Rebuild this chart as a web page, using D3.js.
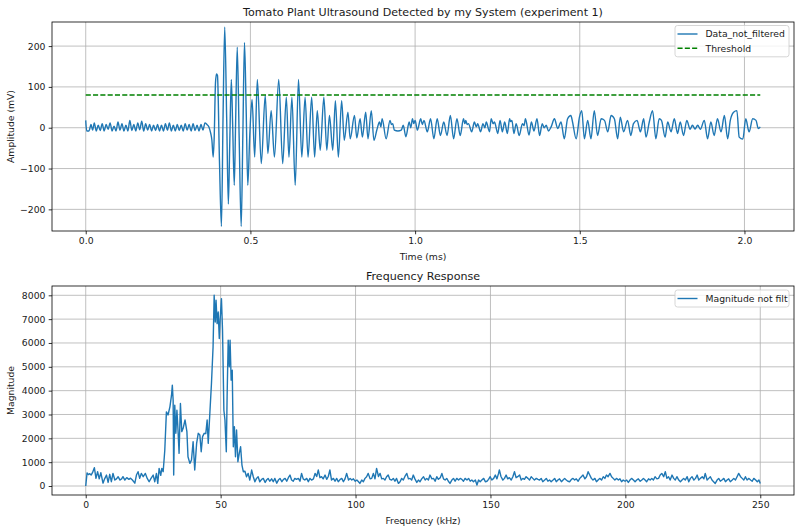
<!DOCTYPE html>
<html>
<head>
<meta charset="utf-8">
<script src="https://cdn.jsdelivr.net/npm/d3@7"></script>
<style>
body { margin: 0; background: #fff; }
text { font-family: "DejaVu Sans", sans-serif; fill: #1a1a1a; }
</style>
</head>
<body>
<script>
// ---- data ----
const ampTitle = "Tomato Plant Ultrasound Detected by my System (experiment 1)";
const freqTitle = "Frequency Response";
const ampLabels = ["Data_not_filtered", "Threshold"];
const freqLabels = ["Magnitude not filt"];
const threshold = 80;
const thresholdSpan = [0, 2.048];
const timeTicks = [0, 0.5, 1.0, 1.5, 2.0];
const ampTicks = [-200, -100, 0, 100, 200];
const freqTicks = [0, 50, 100, 150, 200, 250];
const magTicks = [0, 1000, 2000, 3000, 4000, 5000, 6000, 7000, 8000];

// [time ms, amplitude mV]
const amplitude = [
  [0,18],[0.003,-8],[0.010,-8],[0.016,8],[0.021,-6],[0.026,12],[0.032,-8],[0.038,6],[0.044,-7],[0.050,10],
  [0.056,-8],[0.062,8],[0.068,-4],[0.074,12],[0.080,-8],[0.086,4],[0.092,-8],[0.098,14],[0.104,-6],[0.110,10],
  [0.116,-8],[0.122,6],[0.128,-8],[0.134,18],[0.140,-7],[0.146,8],[0.152,-8],[0.158,12],[0.164,-5],[0.170,16],
  [0.176,-8],[0.182,10],[0.188,-6],[0.194,8],[0.200,-8],[0.206,6],[0.212,-7],[0.218,8],[0.224,-8],[0.230,6],
  [0.236,-8],[0.242,10],[0.248,-6],[0.254,12],[0.260,-8],[0.266,6],[0.272,-8],[0.278,8],[0.284,-7],[0.290,6],
  [0.296,-8],[0.302,10],[0.308,-6],[0.314,8],[0.320,-8],[0.326,10],[0.332,-7],[0.338,6],[0.344,-8],[0.350,8],
  [0.356,-6],[0.362,12],[0.368,8],[0.374,2],
  [0.379,-12],[0.383,-30],[0.387,-72],[0.390,-25],[0.394,110],[0.397,132],[0.400,128],[0.406,-80],[0.412,-242],
  [0.417,30],[0.422,247],[0.428,20],[0.433,-187],[0.437,-50],[0.442,118],[0.446,10],[0.451,-141],[0.455,10],
  [0.460,197],[0.466,-30],[0.472,-242],[0.477,-20],[0.482,209],[0.487,50],[0.492,-141],[0.498,-20],[0.505,69],
  [0.513,-72],[0.521,118],[0.533,-88],[0.545,79],[0.553,-63],[0.563,42],[0.573,-72],[0.586,118],[0.598,-88],
  [0.609,75],[0.617,-72],[0.626,75],[0.636,-141],[0.646,118],[0.656,-72],[0.666,75],[0.675,-72],[0.686,75],
  [0.695,-72],[0.703,42],[0.712,-55],[0.723,75],[0.732,-55],[0.740,30],[0.750,-55],[0.758,66],[0.767,-72],
  [0.777,66],[0.785,-31],
  [0.796,38],[0.803,-27],[0.816,30],[0.823,-25],[0.833,22],[0.840,-23],[0.850,38],[0.857,-27],[0.867,42],
  [0.875,-31],[0.884,-5],[0.892,14],[0.896,2],[0.900,22],[0.912,-27],[0.924,18],[0.928,8],[0.932,10],[0.937,-6],
  [0.948,-8],[0.958,-6],[0.964,6],[0.972,-22],[0.982,14],[0.987,0],[0.992,22],[0.996,10],[1.000,18],[1.007,-6],
  [1.017,22],[1.022,8],[1.027,18],[1.037,-10],[1.047,22],[1.057,-27],[1.067,22],[1.077,-19],[1.087,14],
  [1.097,-19],[1.107,30],[1.117,-27],[1.127,22],[1.137,-19],[1.147,22],[1.151,10],[1.154,18],[1.158,8],
  [1.162,10],[1.172,-10],[1.180,14],[1.186,2],[1.190,10],[1.199,-10],[1.206,10],[1.212,0],[1.216,14],
  [1.226,-10],[1.231,22],[1.237,10],[1.241,14],[1.251,-14],[1.258,18],[1.265,-10],[1.272,14],[1.280,-14],
  [1.287,22],[1.290,15],[1.294,18],[1.300,-14],[1.307,10],[1.316,-19],[1.326,10],[1.331,5],[1.335,22],
  [1.346,-18],[1.353,14],[1.361,-8],[1.370,22],[1.378,-19],[1.386,10],[1.392,0],[1.398,6],
  [1.405,-8],[1.413,2],[1.423,22],[1.433,-2],[1.443,14],[1.453,-27],[1.463,22],[1.473,30],[1.478,14],
  [1.489,-27],[1.499,26],[1.506,42],[1.514,-27],[1.524,18],[1.534,-27],[1.544,42],[1.554,-19],[1.565,22],
  [1.575,18],[1.585,-10],[1.595,30],[1.605,22],[1.615,-27],[1.623,26],[1.633,-10],[1.645,18],[1.655,-19],
  [1.663,10],[1.674,18],[1.684,-10],[1.694,22],[1.701,-23],[1.711,14],[1.721,42],[1.731,-27],[1.741,22],
  [1.748,18],[1.759,-23],[1.767,14],[1.777,-10],[1.787,22],[1.797,-14],[1.805,14],[1.815,-19],[1.825,18],
  [1.835,-4],[1.842,6],[1.850,-3],[1.858,6],[1.866,-4],[1.878,18],[1.888,-27],[1.898,14],[1.908,-19],
  [1.918,22],[1.929,-10],[1.939,30],[1.949,-27],[1.957,18],[1.967,38],[1.977,42],[1.984,-23],[1.995,-28],
  [2.004,22],[2.014,-10],[2.025,22],[2.035,18],[2.042,-2],[2.048,2]
];

// [frequency kHz, magnitude]
const spectrum = [
  [0,0],[0.5,550],[1,480],[1.5,520],[2,460],[2.5,560],[3.2,770],[3.8,320],[4.4,600],[5,300],[5.6,560],
  [6.4,120],[7,300],[7.7,460],[8.3,150],[8.9,490],[9.5,180],[10.1,530],[10.8,250],[11.4,300],[12,390],
  [12.7,250],[13.3,300],[13.8,390],[14.5,250],[15.2,350],[16,280],[16.6,330],[17.3,250],[18.2,120],[18.8,460],
  [19.4,600],[20,320],[20.6,530],[21.3,390],[22.1,530],[22.8,320],[23.5,180],[24.2,320],[25,460],[25.6,180],
  [26.2,530],[26.7,110],[27.2,740],[27.8,450],[28.2,740],[28.7,600],[29.3,1500],[29.9,3110],[30.5,2980],
  [31.2,3320],[31.8,3810],[32.1,4230],[32.4,3600],[32.6,460],[33.0,3390],[33.4,2210],[33.8,3180],[34.2,2350],
  [34.6,1370],[35.1,3460],[35.6,2280],[36.1,2420],[36.8,2770],[37.5,2280],[37.9,1230],[38.6,950],[39.2,1090],
  [39.8,1860],[40.4,670],[41.1,1790],[41.7,2210],[42.3,2140],[42.8,1440],[43.3,2070],[43.9,2210],[44.5,2200],
  [45.0,2770],[45.4,1790],[46.0,3050],[46.6,4300],[47.2,5840],[47.6,8000],[48.0,6880],[48.3,7790],[48.7,6810],
  [49.1,7300],[49.5,6190],[49.8,6950],[50.3,7860],[50.7,6530],[51.2,3180],[51.6,2770],[52.1,1440],[52.4,3740],
  [52.8,6120],[53.2,5000],[53.5,6120],[53.9,4440],[54.3,4860],[54.7,1650],[55.1,2490],[55.5,1230],[55.9,2350],
  [56.4,1020],[56.9,1370],[57.4,1650],[57.9,880],[58.4,600],[59.0,620],[59.6,390],[60.2,530],[60.8,250],
  [61.5,670],[62.1,390],[62.7,180],[63.3,320],[63.9,390],[64.5,180],[65.2,280],[65.8,320],[66.5,150],[67,250],
  [67.6,320],[68.2,200],[68.9,300],[69.5,180],[70.1,320],[70.8,120],[71.4,250],[72,320],[72.7,180],[73.3,280],
  [73.9,320],[74.5,200],[75.1,350],[75.7,460],[76.3,250],[76.9,200],[77.5,320],[78.1,280],[78.8,320],[79.4,200],
  [80,530],[80.6,300],[81.2,250],[81.9,320],[82.5,180],[83.1,320],[83.7,250],[84.4,300],[85,530],[85.6,400],
  [86.2,670],[86.8,350],[87.4,390],[88,300],[88.7,460],[89.3,280],[89.9,400],[90.5,670],[91.1,250],[91.8,320],
  [92.4,200],[93,320],[93.6,180],[94.3,280],[94.9,320],[95.5,180],[96.1,300],[96.7,530],[97.4,250],[98,320],
  [98.6,250],[99.2,300],[99.9,200],[100.5,250],[101.1,180],[101.6,110],[102.3,250],[102.9,180],[103.5,320],
  [104.1,390],[104.7,530],[105.4,300],[106,320],[106.6,530],[107.2,300],[107.8,740],[108.5,400],[109.1,530],
  [109.7,300],[110.3,320],[110.9,250],[111.5,390],[112.1,460],[112.7,280],[113.4,250],[114,320],[114.6,200],
  [115.2,320],[115.9,110],[116.5,180],[117.1,320],[117.7,250],[118.3,400],[119,530],[119.6,300],[120.2,320],
  [120.8,250],[121.4,460],[122,300],[122.7,150],[123.3,250],[123.9,180],[124.5,300],[125.2,390],[125.8,250],
  [126.4,320],[127,250],[127.6,460],[128.3,300],[128.9,320],[129.5,200],[130.1,390],[130.7,280],[131.4,350],
  [132,530],[132.6,300],[133.2,250],[133.8,320],[134.4,200],[135,110],[135.7,250],[136.3,320],[136.9,200],
  [137.5,320],[138.2,250],[138.8,320],[139.4,280],[140,200],[140.6,320],[141.3,250],[141.9,320],[142.5,200],
  [143.1,250],[143.7,180],[144.4,250],[145,40],[145.6,250],[146.2,180],[146.8,250],[147.5,320],[148.1,180],
  [148.7,200],[149.3,280],[149.9,390],[150.5,250],[151.2,320],[151.8,460],[152.4,300],[153,530],[153.3,670],
  [153.9,400],[154.6,250],[155.2,320],[155.8,460],[156.4,300],[157,350],[157.7,250],[158.3,390],[158.9,600],
  [159.5,350],[160.1,390],[160.8,460],[161.4,250],[162,320],[162.6,280],[163.2,390],[163.9,320],[164.5,250],
  [165.1,390],[165.7,320],[166.3,250],[167,320],[167.6,280],[168.2,250],[168.8,320],[169.4,180],[170.1,250],
  [170.7,320],[171.3,200],[171.9,250],[172.5,180],[173.2,250],[173.8,320],[174.4,180],[175,250],[175.6,300],
  [176.3,180],[176.9,250],[177.5,320],[178.1,250],[178.7,200],[179.4,180],[180,280],[180.6,320],[181.2,250],
  [181.8,300],[182.5,200],[183.1,320],[183.7,390],[184.3,460],[185,300],[185.6,390],[186.2,600],[186.8,460],
  [187.4,320],[188,250],[188.7,320],[189.3,180],[189.9,250],[190.5,320],[191.2,250],[191.8,390],[192.4,320],
  [193,460],[193.6,390],[194.3,530],[194.9,390],[195.5,320],[196.1,250],[196.8,320],[197.4,250],[198,300],
  [198.6,180],[199.2,250],[199.9,200],[200.5,250],[201.1,150],[201.7,250],[202.3,320],[203,250],[203.6,180],
  [204.2,250],[204.8,300],[205.5,200],[206.1,250],[206.7,320],[207.3,250],[207.9,180],[208.6,300],[209.2,250],
  [209.8,320],[210.4,250],[211,390],[211.7,300],[212.3,320],[212.9,460],[213.5,530],[214.2,390],[214.8,600],
  [215.4,320],[216,390],[216.6,250],[217.3,460],[217.9,320],[218.5,250],[219.1,390],[219.8,250],[220.4,180],
  [221,250],[221.6,320],[222.2,250],[222.9,390],[223.5,180],[224.1,320],[224.7,390],[225.4,250],[226,320],
  [226.6,460],[227.2,250],[227.8,320],[228.5,390],[229.1,300],[229.6,530],[230.3,250],[230.9,320],[231.5,390],
  [232.1,250],[232.7,180],[233.3,110],[234,250],[234.6,320],[235.2,200],[235.8,250],[236.5,320],[237.1,180],
  [237.7,250],[238.3,300],[238.9,180],[239.6,250],[240.2,320],[240.8,250],[241.4,390],[242,530],[242.7,390],
  [243.3,320],[243.9,250],[244.5,390],[245.1,250],[245.8,320],[246.4,250],[247,200],[247.6,320],[248.3,250],
  [248.9,180],[249.5,250],[250,110]
];

// ---- drawing ----
const BLUE = "#1f77b4";
const FS = 9.26;
const SVG = d3.select("body").append("svg").attr("width", 800).attr("height", 531);

function panel(box, xDom, yDom, xTicks, yTicks, xFmt, yFmt, title, xLabel, yLabel) {
  const x = d3.scaleLinear().domain(xDom).range([box.l, box.r]);
  const y = d3.scaleLinear().domain(yDom).range([box.b, box.t]);
  const g = SVG.append("g");

  // grid
  g.selectAll(".gx").data(xTicks).join("line")
    .attr("x1", d => x(d)).attr("x2", d => x(d)).attr("y1", box.t).attr("y2", box.b)
    .attr("stroke", "#b0b0b0").attr("stroke-width", 0.8);
  g.selectAll(".gy").data(yTicks).join("line")
    .attr("x1", box.l).attr("x2", box.r).attr("y1", d => y(d)).attr("y2", d => y(d))
    .attr("stroke", "#b0b0b0").attr("stroke-width", 0.8);

  // axes
  const ax = g.append("g").attr("transform", `translate(0,${box.b})`)
    .call(d3.axisBottom(x).tickValues(xTicks).tickFormat(xFmt).tickSize(3.3).tickPadding(3.3));
  const ay = g.append("g").attr("transform", `translate(${box.l},0)`)
    .call(d3.axisLeft(y).tickValues(yTicks).tickFormat(yFmt).tickSize(3.3).tickPadding(3.3));
  [ax, ay].forEach(a => {
    a.select(".domain").remove();
    a.selectAll("line").attr("stroke", "#000").attr("stroke-width", 0.8);
    a.selectAll("text").attr("font-size", FS).attr("font-family", "DejaVu Sans").attr("fill", "#1a1a1a");
  });

  g.append("text").attr("x", (box.l + box.r) / 2).attr("y", box.t - 5.8)
    .attr("text-anchor", "middle").attr("font-size", 11.1).text(title);
  g.append("text").attr("x", (box.l + box.r) / 2).attr("y", box.b + 28.5)
    .attr("text-anchor", "middle").attr("font-size", FS).text(xLabel);
  g.append("text").attr("transform", `translate(14,${(box.t + box.b) / 2}) rotate(-90)`)
    .attr("text-anchor", "middle").attr("font-size", FS).text(yLabel);

  return { x, y, g };
}

function frame(box) {
  SVG.append("rect").attr("x", box.l).attr("y", box.t)
    .attr("width", box.r - box.l).attr("height", box.b - box.t)
    .attr("fill", "none").attr("stroke", "#000").attr("stroke-width", 0.8);
}

function legend(box, items, top) {
  const w = 114, rowH = 14.3, h = 17 + (items.length - 1) * rowH;
  const lx = box.r - 5 - w, ly = box.t + top;
  const lg = SVG.append("g");
  lg.append("rect").attr("x", lx).attr("y", ly).attr("width", w).attr("height", h)
    .attr("rx", 2.5).attr("fill", "#fff").attr("fill-opacity", 0.8)
    .attr("stroke", "#cccccc").attr("stroke-width", 0.8);
  items.forEach((it, i) => {
    const cy = ly + 8.5 + i * rowH;
    lg.append("line").attr("x1", lx + 2.5).attr("x2", lx + 22.5).attr("y1", cy).attr("y2", cy)
      .attr("stroke", it.color).attr("stroke-width", 1.4)
      .attr("stroke-dasharray", it.dash || null);
    lg.append("text").attr("x", lx + 30.5).attr("y", cy).attr("dy", "0.35em")
      .attr("font-size", FS).text(it.label);
  });
}

// top panel
const boxA = { l: 52, r: 794, t: 22, b: 231 };
const A = panel(boxA, [-0.1024, 2.1504], [-253, 259], timeTicks, ampTicks,
  d3.format(".1f"), d3.format("d"), ampTitle, "Time (ms)", "Amplitude (mV)");

A.g.append("path").datum(amplitude)
  .attr("fill", "none").attr("stroke", BLUE).attr("stroke-width", 1.4).attr("stroke-linejoin", "round")
  .attr("d", d3.line().x(d => A.x(d[0])).y(d => A.y(d[1])).curve(d3.curveMonotoneX));

A.g.append("line")
  .attr("x1", A.x(thresholdSpan[0])).attr("x2", A.x(thresholdSpan[1]))
  .attr("y1", A.y(threshold)).attr("y2", A.y(threshold))
  .attr("stroke", "green").attr("stroke-width", 1.4).attr("stroke-dasharray", "5.1,2.2");

frame(boxA);
legend(boxA, [
  { label: ampLabels[0], color: BLUE },
  { label: ampLabels[1], color: "green", dash: "5.1,2.2" }
], 3.5);

// bottom panel
const boxB = { l: 52, r: 794, t: 286, b: 495 };
const B = panel(boxB, [-12.5, 262.5], [-377, 8390], freqTicks, magTicks,
  d3.format("d"), d3.format("d"), freqTitle, "Frequency (kHz)", "Magnitude");

B.g.append("path").datum(spectrum)
  .attr("fill", "none").attr("stroke", BLUE).attr("stroke-width", 1.4).attr("stroke-linejoin", "round")
  .attr("d", d3.line().x(d => B.x(d[0])).y(d => B.y(d[1])));

frame(boxB);
legend(boxB, [{ label: freqLabels[0], color: BLUE }], 4);
</script>
</body>
</html>
